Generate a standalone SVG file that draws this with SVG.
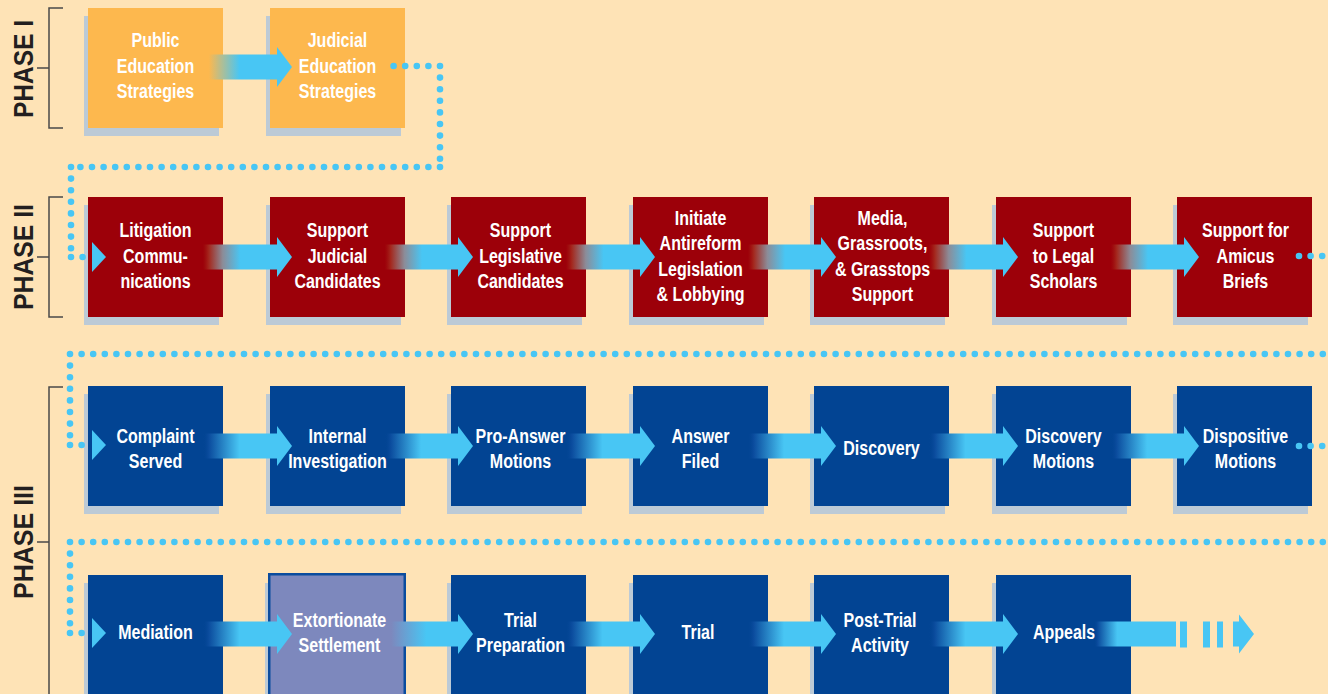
<svg xmlns="http://www.w3.org/2000/svg" width="1328" height="694" viewBox="0 0 1328 694">
<style>
.bg{fill:#FEE3B6}
.sh{fill:#BCCAD6}
.or{fill:#FDB84E}
.rd{fill:#9C0009}
.bl{fill:#024493}
.ex{fill:#7D88BD;stroke:#0B4C9E;stroke-width:2.5}
.t{font-family:"Liberation Sans","Arial",sans-serif;font-weight:bold;font-size:20px;fill:#ffffff;text-anchor:middle}
.ph{font-family:"Liberation Sans","Arial",sans-serif;font-weight:bold;font-size:27px;fill:#231F20;text-anchor:middle}
.br{fill:none;stroke:#4a4a4a;stroke-width:1.5}
.dot{fill:none;stroke:#48C6F4;stroke-width:6.6;stroke-linecap:round;stroke-dasharray:0 11.6}
.lb{fill:#48C6F4}
</style>
<defs>
<linearGradient id="gO" x1="0" y1="0" x2="1" y2="0">
<stop offset="0" stop-color="#FDB84E" stop-opacity="0"/>
<stop offset="0.1" stop-color="#FDB84E" stop-opacity="0"/>
<stop offset="0.16" stop-color="#FDB84E"/>
<stop offset="0.47" stop-color="#48C6F4"/>
<stop offset="1" stop-color="#48C6F4"/>
</linearGradient>
<linearGradient id="gR" x1="0" y1="0" x2="1" y2="0">
<stop offset="0" stop-color="#A21A12" stop-opacity="0"/>
<stop offset="0.1" stop-color="#A21A12" stop-opacity="0"/>
<stop offset="0.16" stop-color="#A4281E"/>
<stop offset="0.3" stop-color="#8C8C98"/>
<stop offset="0.48" stop-color="#48C6F4"/>
<stop offset="1" stop-color="#48C6F4"/>
</linearGradient>
<linearGradient id="gB" x1="0" y1="0" x2="1" y2="0">
<stop offset="0" stop-color="#024493" stop-opacity="0"/>
<stop offset="0.1" stop-color="#024493" stop-opacity="0"/>
<stop offset="0.16" stop-color="#0B4C9E"/>
<stop offset="0.47" stop-color="#48C6F4"/>
<stop offset="1" stop-color="#48C6F4"/>
</linearGradient>
<linearGradient id="gX" x1="0" y1="0" x2="1" y2="0">
<stop offset="0" stop-color="#7D88BD" stop-opacity="0"/>
<stop offset="0.06" stop-color="#7D88BD" stop-opacity="0"/>
<stop offset="0.12" stop-color="#7D88BD"/>
<stop offset="0.5" stop-color="#48C6F4"/>
<stop offset="1" stop-color="#48C6F4"/>
</linearGradient>
<linearGradient id="gE" x1="0" y1="0" x2="1" y2="0">
<stop offset="0" stop-color="#024493" stop-opacity="0"/>
<stop offset="0.08" stop-color="#024493" stop-opacity="0"/>
<stop offset="0.12" stop-color="#0B4C9E"/>
<stop offset="0.34" stop-color="#48C6F4"/>
<stop offset="1" stop-color="#48C6F4"/>
</linearGradient>
</defs>
<rect class="bg" x="0" y="0" width="1328" height="694"/>

<g id="phase-labels">
<path class="br" d="M63 8 H49 V128 H63 M49 68 H37"/>
<text class="ph" transform="translate(33,69) rotate(-90)" textLength="98" lengthAdjust="spacingAndGlyphs">PHASE I</text>
<path class="br" d="M63 197 H49 V317 H63 M49 257 H37"/>
<text class="ph" transform="translate(33,257) rotate(-90)" textLength="106" lengthAdjust="spacingAndGlyphs">PHASE II</text>
<path class="br" d="M63 387 H49 V694 M49 542 H37"/>
<text class="ph" transform="translate(33,542) rotate(-90)" textLength="114" lengthAdjust="spacingAndGlyphs">PHASE III</text>
</g>

<!-- Phase I -->
<g id="n-public-education">
<rect class="sh" x="84" y="16" width="135" height="120"/><rect class="or" x="88" y="8" width="135" height="120"/>
<g transform="translate(155.5 0) scale(0.8 1)"><text class="t" x="0" y="47">Public</text><text class="t" x="0" y="73">Education</text><text class="t" x="0" y="98">Strategies</text></g>
</g>
<g id="n-judicial-education">
<rect class="sh" x="266" y="16" width="135" height="120"/><rect class="or" x="270" y="8" width="135" height="120"/>
<g transform="translate(337.5 0) scale(0.8 1)"><text class="t" x="0" y="47">Judicial</text><text class="t" x="0" y="73">Education</text><text class="t" x="0" y="98">Strategies</text></g>
</g>

<!-- Phase II -->
<g id="n-litigation-communications">
<rect class="sh" x="84" y="205" width="135" height="120"/><rect class="rd" x="88" y="197" width="135" height="120"/>
<g transform="translate(155.5 0) scale(0.8 1)"><text class="t" x="0" y="237">Litigation</text><text class="t" x="0" y="263">Commu-</text><text class="t" x="0" y="288">nications</text></g>
</g>
<g id="n-support-judicial">
<rect class="sh" x="266" y="205" width="135" height="120"/><rect class="rd" x="270" y="197" width="135" height="120"/>
<g transform="translate(337.5 0) scale(0.8 1)"><text class="t" x="0" y="237">Support</text><text class="t" x="0" y="263">Judicial</text><text class="t" x="0" y="288">Candidates</text></g>
</g>
<g id="n-support-legislative">
<rect class="sh" x="447" y="205" width="135" height="120"/><rect class="rd" x="451" y="197" width="135" height="120"/>
<g transform="translate(520.5 0) scale(0.8 1)"><text class="t" x="0" y="237">Support</text><text class="t" x="0" y="263">Legislative</text><text class="t" x="0" y="288">Candidates</text></g>
</g>
<g id="n-antireform">
<rect class="sh" x="629" y="205" width="135" height="120"/><rect class="rd" x="633" y="197" width="135" height="120"/>
<g transform="translate(700.5 0) scale(0.8 1)"><text class="t" x="0" y="225">Initiate</text><text class="t" x="0" y="250">Antireform</text><text class="t" x="0" y="276">Legislation</text><text class="t" x="0" y="301">&amp; Lobbying</text></g>
</g>
<g id="n-media">
<rect class="sh" x="810" y="205" width="135" height="120"/><rect class="rd" x="814" y="197" width="135" height="120"/>
<g transform="translate(882.5 0) scale(0.8 1)"><text class="t" x="0" y="225">Media,</text><text class="t" x="0" y="250">Grassroots,</text><text class="t" x="0" y="276">&amp; Grasstops</text><text class="t" x="0" y="301">Support</text></g>
</g>
<g id="n-legal-scholars">
<rect class="sh" x="992" y="205" width="135" height="120"/><rect class="rd" x="996" y="197" width="135" height="120"/>
<g transform="translate(1063.5 0) scale(0.8 1)"><text class="t" x="0" y="237">Support</text><text class="t" x="0" y="263">to Legal</text><text class="t" x="0" y="288">Scholars</text></g>
</g>
<g id="n-amicus">
<rect class="sh" x="1173" y="205" width="135" height="120"/><rect class="rd" x="1177" y="197" width="135" height="120"/>
<g transform="translate(1245.5 0) scale(0.8 1)"><text class="t" x="0" y="237">Support for</text><text class="t" x="0" y="263">Amicus</text><text class="t" x="0" y="288">Briefs</text></g>
</g>

<!-- Phase III row 1 -->
<g id="n-complaint">
<rect class="sh" x="84" y="394" width="135" height="120"/><rect class="bl" x="88" y="386" width="135" height="120"/>
<g transform="translate(155.5 0) scale(0.8 1)"><text class="t" x="0" y="443">Complaint</text><text class="t" x="0" y="468">Served</text></g>
</g>
<g id="n-internal">
<rect class="sh" x="266" y="394" width="135" height="120"/><rect class="bl" x="270" y="386" width="135" height="120"/>
<g transform="translate(337.5 0) scale(0.8 1)"><text class="t" x="0" y="443">Internal</text><text class="t" x="0" y="468">Investigation</text></g>
</g>
<g id="n-pro-answer">
<rect class="sh" x="447" y="394" width="135" height="120"/><rect class="bl" x="451" y="386" width="135" height="120"/>
<g transform="translate(520.5 0) scale(0.8 1)"><text class="t" x="0" y="443">Pro-Answer</text><text class="t" x="0" y="468">Motions</text></g>
</g>
<g id="n-answer">
<rect class="sh" x="629" y="394" width="135" height="120"/><rect class="bl" x="633" y="386" width="135" height="120"/>
<g transform="translate(700.5 0) scale(0.8 1)"><text class="t" x="0" y="443">Answer</text><text class="t" x="0" y="468">Filed</text></g>
</g>
<g id="n-discovery">
<rect class="sh" x="810" y="394" width="135" height="120"/><rect class="bl" x="814" y="386" width="135" height="120"/>
<g transform="translate(881.5 0) scale(0.8 1)"><text class="t" x="0" y="455">Discovery</text></g>
</g>
<g id="n-discovery-motions">
<rect class="sh" x="992" y="394" width="135" height="120"/><rect class="bl" x="996" y="386" width="135" height="120"/>
<g transform="translate(1063.5 0) scale(0.8 1)"><text class="t" x="0" y="443">Discovery</text><text class="t" x="0" y="468">Motions</text></g>
</g>
<g id="n-dispositive">
<rect class="sh" x="1173" y="394" width="135" height="120"/><rect class="bl" x="1177" y="386" width="135" height="120"/>
<g transform="translate(1245.5 0) scale(0.8 1)"><text class="t" x="0" y="443">Dispositive</text><text class="t" x="0" y="468">Motions</text></g>
</g>

<!-- Phase III row 2 -->
<g id="n-mediation">
<rect class="sh" x="84" y="583" width="135" height="120"/><rect class="bl" x="88" y="575" width="135" height="120"/>
<g transform="translate(155.5 0) scale(0.8 1)"><text class="t" x="0" y="639">Mediation</text></g>
</g>
<g id="n-extortionate">
<rect class="sh" x="265" y="583" width="135" height="120"/><rect class="ex" x="269.25" y="574.25" width="135.5" height="125"/>
<g transform="translate(339.5 0) scale(0.8 1)"><text class="t" x="0" y="627">Extortionate</text><text class="t" x="0" y="652">Settlement</text></g>
</g>
<g id="n-trial-prep">
<rect class="sh" x="447" y="583" width="135" height="120"/><rect class="bl" x="451" y="575" width="135" height="120"/>
<g transform="translate(520.5 0) scale(0.8 1)"><text class="t" x="0" y="627">Trial</text><text class="t" x="0" y="652">Preparation</text></g>
</g>
<g id="n-trial">
<rect class="sh" x="629" y="583" width="135" height="120"/><rect class="bl" x="633" y="575" width="135" height="120"/>
<g transform="translate(698 0) scale(0.8 1)"><text class="t" x="0" y="639">Trial</text></g>
</g>
<g id="n-post-trial">
<rect class="sh" x="810" y="583" width="135" height="120"/><rect class="bl" x="814" y="575" width="135" height="120"/>
<g transform="translate(880 0) scale(0.8 1)"><text class="t" x="0" y="627">Post-Trial</text><text class="t" x="0" y="652">Activity</text></g>
</g>
<g id="n-appeals">
<rect class="sh" x="992" y="583" width="135" height="120"/><rect class="bl" x="996" y="575" width="135" height="120"/>
<g transform="translate(1064 0) scale(0.8 1)"><text class="t" x="0" y="639">Appeals</text></g>
</g>

<g id="connectors">
<path class="dot" d="M440 66 H392 M440 66 V167 M440 167 H71 M71 167 V257 M71 257 H83"/>
<polygon class="lb" points="92,242 106,257 92,272"/>
<path class="dot" d="M1299 256 H1332 M70 354 H1332 M70 354 V445 M70 445 H82"/>
<polygon class="lb" points="92,430 106,445 92,460"/>
<path class="dot" d="M1299 446 H1332 M70 542 H1332 M70 542 V633 M70 633 H82"/>
<polygon class="lb" points="92,618 106,633 92,648"/>

<path fill="url(#gO)" d="M193 54.5 H277 V47 L292 67 L277 87 V79.5 H193 Z"/>

<path fill="url(#gR)" d="M193 244.5 H277 V237 L292 257 L277 277 V269.5 H193 Z"/>
<path fill="url(#gR)" d="M375 244.5 H458 V237 L473 257 L458 277 V269.5 H375 Z"/>
<path fill="url(#gR)" d="M556 244.5 H640 V237 L655 257 L640 277 V269.5 H556 Z"/>
<path fill="url(#gR)" d="M738 244.5 H821 V237 L836 257 L821 277 V269.5 H738 Z"/>
<path fill="url(#gR)" d="M919 244.5 H1003 V237 L1018 257 L1003 277 V269.5 H919 Z"/>
<path fill="url(#gR)" d="M1101 244.5 H1184 V237 L1199 257 L1184 277 V269.5 H1101 Z"/>

<path fill="url(#gB)" d="M193 433.5 H277 V426 L292 446 L277 466 V458.5 H193 Z"/>
<path fill="url(#gB)" d="M375 433.5 H458 V426 L473 446 L458 466 V458.5 H375 Z"/>
<path fill="url(#gB)" d="M556 433.5 H640 V426 L655 446 L640 466 V458.5 H556 Z"/>
<path fill="url(#gB)" d="M738 433.5 H821 V426 L836 446 L821 466 V458.5 H738 Z"/>
<path fill="url(#gB)" d="M919 433.5 H1003 V426 L1018 446 L1003 466 V458.5 H919 Z"/>
<path fill="url(#gB)" d="M1101 433.5 H1184 V426 L1199 446 L1184 466 V458.5 H1101 Z"/>

<path fill="url(#gB)" d="M193 621.5 H277 V614 L292 634 L277 654 V646.5 H193 Z"/>
<path fill="url(#gX)" d="M380 621.5 H458 V614 L473 634 L458 654 V646.5 H380 Z"/>
<path fill="url(#gB)" d="M556 621.5 H640 V614 L655 634 L640 654 V646.5 H556 Z"/>
<path fill="url(#gB)" d="M738 621.5 H821 V614 L836 634 L821 654 V646.5 H738 Z"/>
<path fill="url(#gB)" d="M919 621.5 H1003 V614 L1018 634 L1003 654 V646.5 H919 Z"/>

<path fill="url(#gE)" d="M1087 621.5 H1176 V646.5 H1087 Z"/>
<rect class="lb" x="1180" y="621.5" width="7" height="26"/>
<rect class="lb" x="1203" y="621.5" width="7" height="26"/>
<rect class="lb" x="1217" y="621.5" width="6" height="26"/>
<path class="lb" d="M1233 621.5 H1239 V614.5 L1254 634 L1239 653.5 V646.5 H1233 Z"/>
</g>
</svg>
